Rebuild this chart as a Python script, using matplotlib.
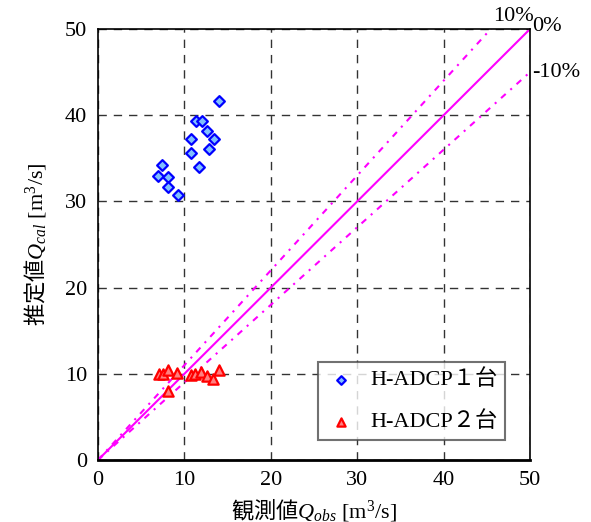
"""
Estimated vs observed discharge for the H-ADCP setups
"""
import matplotlib
matplotlib.use("Agg")
import matplotlib.pyplot as plt
import numpy as np

plt.rcParams['font.family'] = ['Liberation Serif', 'Noto Sans CJK JP']
# mathtext pieces: kanji upright via rm, Q italic, units serif via sf
plt.rcParams['mathtext.fontset'] = 'custom'
plt.rcParams['mathtext.rm'] = 'Noto Sans CJK JP'
plt.rcParams['mathtext.it'] = 'Liberation Serif:italic'
plt.rcParams['mathtext.sf'] = 'Liberation Serif'

# one H-ADCP unit
obs_1 = [14.0, 11.3, 12.0, 12.6, 13.4, 10.8, 12.9, 10.8, 11.7, 7.4, 6.9, 8.1, 8.1, 9.3]
cal_1 = [41.6, 39.3, 39.3, 38.2, 37.2, 37.2, 36.1, 35.6, 34.0, 34.2, 33.0, 32.8, 31.7, 30.7]

# two H-ADCP units
obs_2 = [7.1, 7.5, 8.1, 9.2, 8.1, 10.8, 11.2, 11.9, 12.6, 13.3, 14.0]
cal_2 = [10.0, 10.0, 10.4, 10.1, 8.0, 9.9, 10.0, 10.2, 9.7, 9.4, 10.4]

# error bands around the 1:1 line
bands = [0.10, 0.0, -0.10]
band_labels = ["10%", "0%", "-10%"]

lim = 50
ticks = [0, 10, 20, 30, 40, 50]

fig = plt.figure(figsize=(5.91, 5.22), dpi=100)
ax = fig.add_axes([0.1658, 0.1188, 0.7310, 0.8256])

# reference lines
xs = np.array([0, lim])
for b in bands:
    ys = xs * (1 + b)
    if b == 0:
        ax.plot(xs, ys, color='#ff00ff', lw=1.5, zorder=2)
    else:
        ax.plot(xs, ys, color='#ff00ff', lw=1.5, ls=(0, (3, 3, 1, 3)), zorder=2)

ax.scatter(obs_1, cal_1, marker='D', s=30, facecolor='#7fbfff',
           edgecolor='#0000ff', linewidth=1.6, label='H-ADCP１台', zorder=4)
ax.scatter(obs_2, cal_2, marker='^', s=55, facecolor='#ff8080',
           edgecolor='#ff0000', linewidth=1.6, label='H-ADCP２台', zorder=4)

ax.set_xlim(0, lim)
ax.set_ylim(0, lim)
ax.set_xticks(ticks)
ax.set_yticks(ticks)
ax.tick_params(length=0, labelsize=16, pad=8)
ax.grid(True, color='0.2', ls=(0, (6, 5)), lw=1)

for s in ax.spines.values():
    s.set_linewidth(1.2)
ax.spines['bottom'].set_linewidth(2)

ax.set_xlabel(r"$\mathrm{観測値}Q_{obs}$ $\mathsf{[m^3/s]}$", fontsize=16, labelpad=4)
ax.set_ylabel(r"$\mathrm{推定値}Q_{cal}$ $\mathsf{[m^3/s]}$", fontsize=16, labelpad=12)

# band labels outside the top-right corner
ax.text(lim / 1.1 + 2.6, lim + 0.3, band_labels[0], fontsize=16,
        ha='center', va='bottom', clip_on=False)
ax.text(lim + 0.3, lim + 0.3, band_labels[1], fontsize=16,
        ha='left', va='center', clip_on=False)
ax.text(lim + 0.3, lim * 0.9, band_labels[2], fontsize=16,
        ha='left', va='center', clip_on=False)

leg = ax.legend(loc='lower right', bbox_to_anchor=(0.942, 0.046), fontsize=16,
                frameon=True, fancybox=False, edgecolor='0.3',
                handletextpad=0.6, borderpad=0.35, labelspacing=0.95,
                handlelength=1.4, markerscale=0.8, borderaxespad=0)
leg.get_frame().set_linewidth(1.5)

fig.savefig("out.png", dpi=100)
